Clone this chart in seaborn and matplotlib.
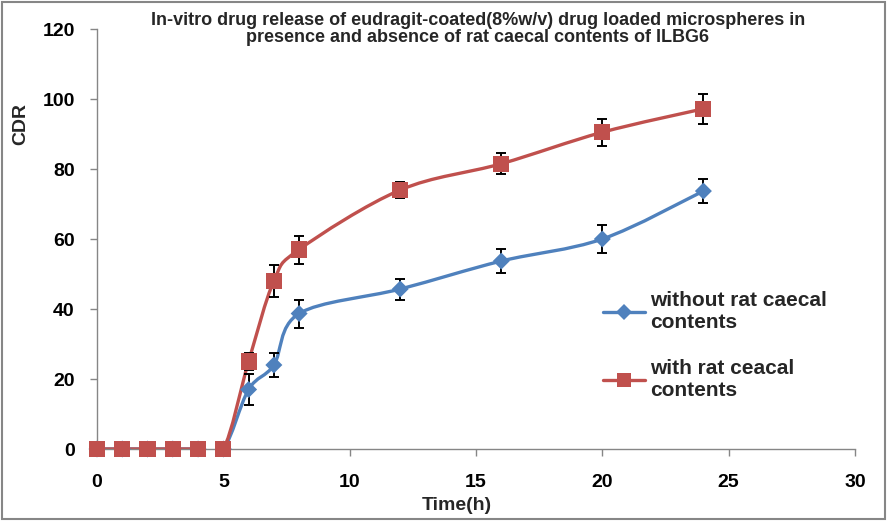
import numpy as np
import matplotlib
matplotlib.use("Agg")
import matplotlib.pyplot as plt
from matplotlib.path import Path
from matplotlib.patches import PathPatch, Rectangle
from matplotlib.lines import Line2D
from matplotlib.font_manager import FontProperties
import seaborn as sns

# data
time_h = [0, 1, 2, 3, 4, 5, 6, 7, 8, 12, 16, 20, 24]
cdr_without = [0, 0, 0, 0, 0, 0, 17.0, 24.0, 38.7, 45.7, 53.7, 60.0, 73.7]
err_without = [0, 0, 0, 0, 0, 0, 4.3, 3.5, 4.0, 3.0, 3.5, 4.0, 3.4]
cdr_with = [0, 0, 0, 0, 0, 0, 25.0, 48.0, 57.0, 74.0, 81.5, 90.5, 97.2]
err_with = [0, 0, 0, 0, 0, 0, 2.5, 4.6, 4.0, 2.3, 3.0, 3.8, 4.2]

x_ticks = [0, 5, 10, 15, 20, 25, 30]
y_ticks = [0, 20, 40, 60, 80, 100, 120]

label_without = "without rat caecal\ncontents"
label_with = "with rat ceacal\ncontents"
title = ("In-vitro drug release of eudragit-coated(8%w/v) drug loaded microspheres in\n"
         "presence and absence of rat caecal contents of ILBG6")

BLUE = "#4F81BD"
RED = "#C0504D"
GREY = "#868686"

sns.set_theme(style="white")
plt.rcParams["font.family"] = ["Liberation Sans", "DejaVu Sans"]
plt.rcParams["font.weight"] = "bold"


def bold(size):
    return FontProperties(family="Liberation Sans", weight="bold", size=size)


def smooth_path(x, y):
    # Excel-style smoothed line: cubic bezier through each point
    p = np.column_stack([x, y]).astype(float)
    n = len(p)
    verts = [p[0]]
    codes = [Path.MOVETO]
    for i in range(n - 1):
        p0 = p[i - 1] if i > 0 else p[i]
        p3 = p[i + 2] if i + 2 < n else p[i + 1]
        c1 = p[i] + (p[i + 1] - p0) / 6
        c2 = p[i + 1] - (p3 - p[i]) / 6
        verts += [c1, c2, p[i + 1]]
        codes += [Path.CURVE4] * 3
    return Path(verts, codes)


fig = plt.figure(figsize=(8.88, 5.21), dpi=100)
ax = fig.add_axes([97 / 888, 72 / 521, 758 / 888, 420 / 521])

series = [
    (cdr_without, err_without, BLUE, "D", 75, label_without),
    (cdr_with, err_with, RED, "s", 135, label_with),
]
handles = []
for vals, errs, col, mk, size, lab in series:
    ax.add_patch(PathPatch(smooth_path(time_h, vals), facecolor="none",
                           edgecolor=col, lw=2.4, zorder=2))
    ax.errorbar(time_h, vals, yerr=errs, fmt="none", ecolor="black",
                elinewidth=1.4, capsize=3.5, capthick=1.4, zorder=3)
    sns.scatterplot(x=time_h, y=vals, marker=mk, s=size, color=col,
                    edgecolor="none", zorder=4, clip_on=False, ax=ax)
    handles.append(Line2D([], [], color=col, lw=2.4, marker=mk,
                          markersize=8 if mk == "D" else 10, markeredgewidth=0))

ax.set_xlim(0, 30)
ax.set_ylim(0, 120)
ax.set_xticks(x_ticks, labels=[str(v) for v in x_ticks])
ax.set_yticks(y_ticks, labels=[str(v) for v in y_ticks])
for t in ax.get_xticklabels() + ax.get_yticklabels():
    t.set_fontproperties(bold(14))
for side in ["top", "right"]:
    ax.spines[side].set_visible(False)
for side in ["left", "bottom"]:
    ax.spines[side].set_color(GREY)
    ax.spines[side].set_linewidth(1)
ax.tick_params(axis="both", direction="out", length=5, color=GREY, width=1,
               labelcolor="black", bottom=True, left=True)
ax.tick_params(axis="x", pad=13)
ax.tick_params(axis="y", pad=11)

ax.set_xlabel("Time(h)", fontproperties=bold(14))
ax.set_ylabel("CDR", fontproperties=bold(14))
ax.xaxis.set_label_coords(0.475, -0.115)
ax.yaxis.set_label_coords(-0.09, 0.774)

fig.text(0.538, 0.945, title, ha="center", va="center",
         fontproperties=bold(13), linespacing=0.98)

ax.legend(handles, [label_without, label_with], loc="upper left",
          bbox_to_anchor=(0.643, 0.42), frameon=False,
          handlelength=2.0, handletextpad=0.25, labelspacing=1.3,
          prop=bold(15))

fig.patches.append(Rectangle((0.002, 0.003), 0.995, 0.993, transform=fig.transFigure,
                             fill=False, edgecolor=GREY, lw=1.5))

fig.savefig("out.png", dpi=100)
